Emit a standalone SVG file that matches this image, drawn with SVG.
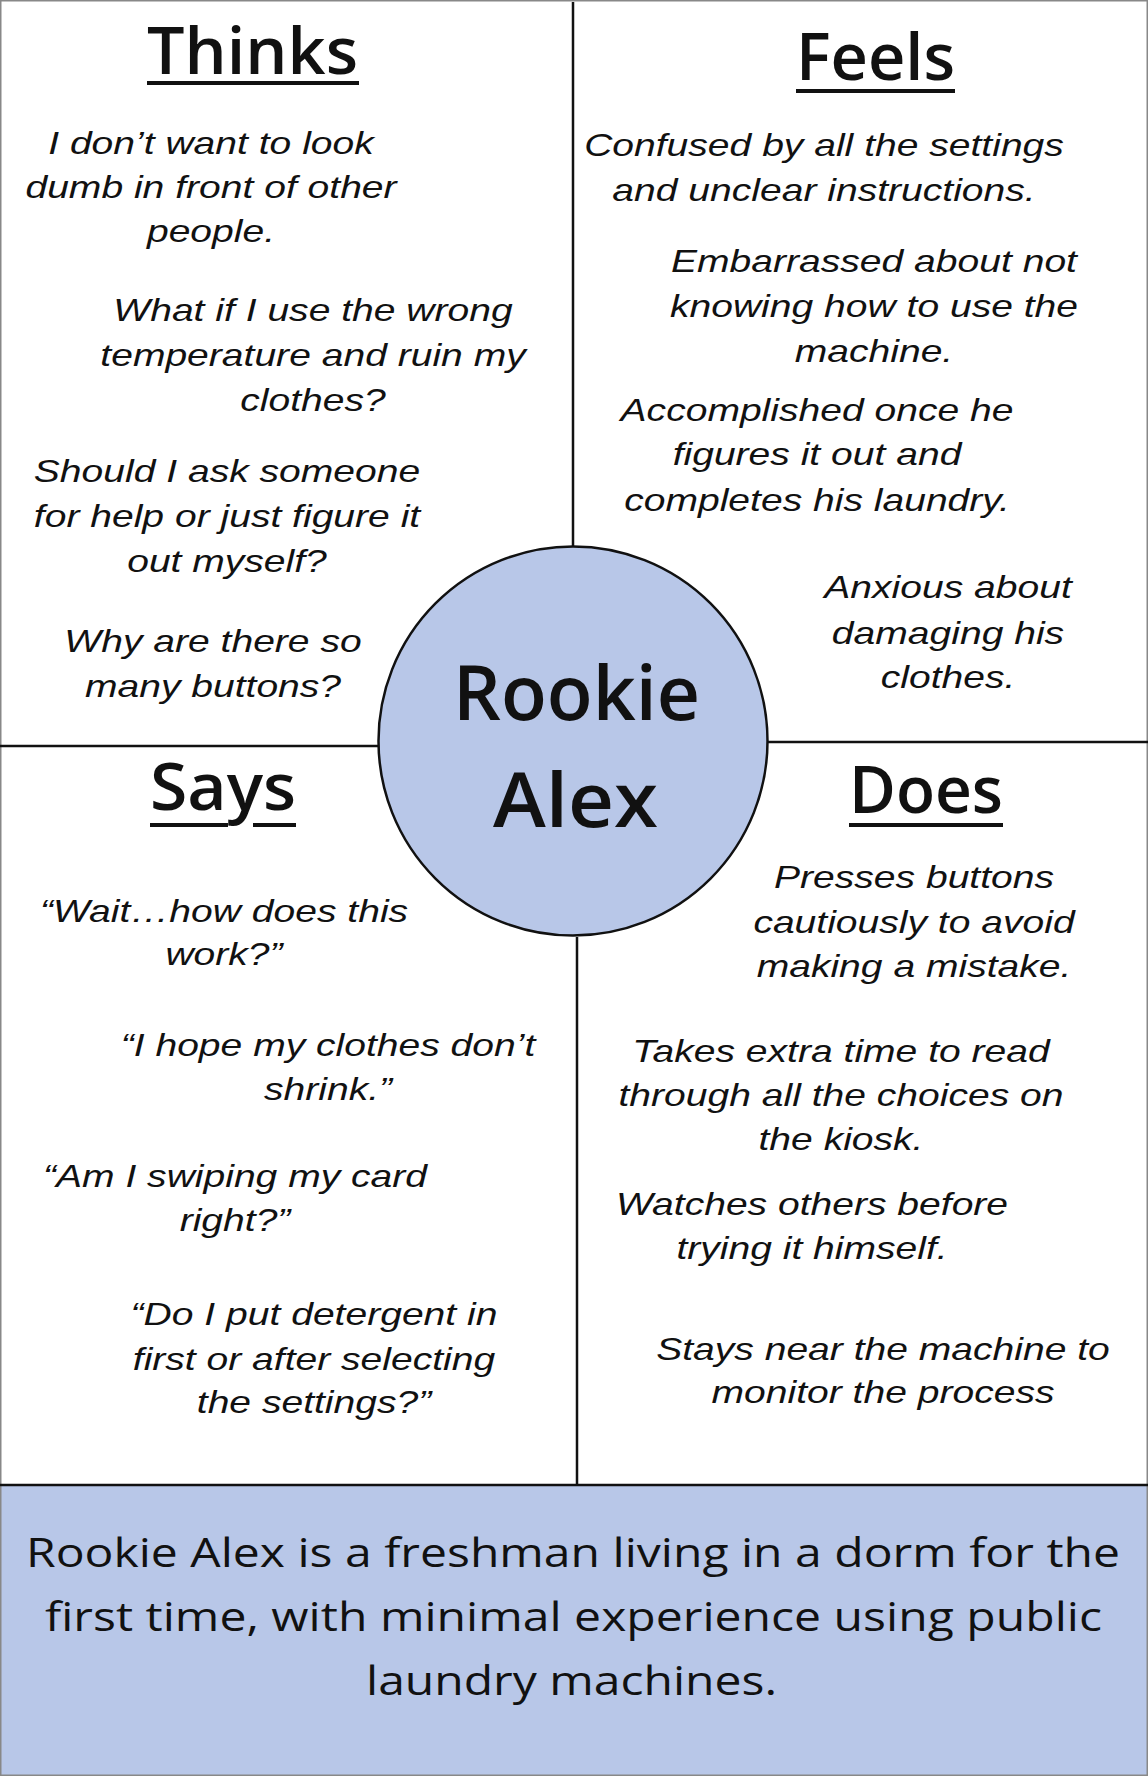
<svg xmlns="http://www.w3.org/2000/svg" width="1148" height="1776" viewBox="0 0 1148 1776">
<style>
.b{font-family:"Liberation Sans",Arial,sans-serif;font-style:italic;font-size:31px;fill:#111;text-anchor:middle}
.h{font-family:"Open Sans",Lato,sans-serif;font-weight:600;font-size:66px;fill:#111;text-anchor:middle}
.c{font-family:"Open Sans",Lato,sans-serif;font-weight:600;font-size:76px;fill:#111;text-anchor:middle}
.s{font-family:"Open Sans",Lato,sans-serif;font-weight:500;font-size:40px;fill:#111;text-anchor:middle}
.ul{stroke:#111;stroke-width:4}
.ln{stroke:#111;stroke-width:2.5;fill:none}
</style>
<rect x="0" y="0" width="1148" height="1776" fill="#fff"/>
<rect id="summary-bg" x="0" y="1485" width="1148" height="291" fill="#b8c7e8"/>
<rect x="0.75" y="0.75" width="1146.5" height="1774.5" fill="none" stroke="#888" stroke-width="1.5"/>
<g id="connectors">
<line class="ln" x1="573" y1="2" x2="573" y2="546"/>
<line class="ln" x1="0" y1="746" x2="379" y2="746"/>
<line class="ln" x1="767" y1="742" x2="1148" y2="742"/>
<line class="ln" x1="577" y1="937" x2="577" y2="1485"/>
<line class="ln" x1="0" y1="1485" x2="1148" y2="1485" stroke-width="3"/>
</g>
<g id="center">
<circle cx="573" cy="741" r="194.5" fill="#b8c7e8" stroke="#111" stroke-width="2.5"/>
<text class="c" x="576.5" y="720" textLength="247" lengthAdjust="spacingAndGlyphs">Rookie</text>
<text class="c" x="575.5" y="827" textLength="165" lengthAdjust="spacingAndGlyphs">Alex</text>
</g>
<g id="thinks">
<text class="h" x="252.5" y="74" textLength="211" lengthAdjust="spacingAndGlyphs">Thinks</text>
<line class="ul" x1="147" y1="83" x2="359" y2="83"/>
<g transform="translate(211,0) scale(1.26,1)"><text class="b"><tspan x="0" y="154">I don’t want to look</tspan><tspan x="0" y="198">dumb in front of other</tspan><tspan x="0" y="242">people.</tspan></text></g>
<g transform="translate(313,0) scale(1.26,1)"><text class="b"><tspan x="0" y="321.5">What if I use the wrong</tspan><tspan x="0" y="366.5">temperature and ruin my</tspan><tspan x="0" y="411">clothes?</tspan></text></g>
<g transform="translate(227,0) scale(1.26,1)"><text class="b"><tspan x="0" y="482">Should I ask someone</tspan><tspan x="0" y="527">for help or just figure it</tspan><tspan x="0" y="572">out myself?</tspan></text></g>
<g transform="translate(213,0) scale(1.26,1)"><text class="b"><tspan x="0" y="652">Why are there so</tspan><tspan x="0" y="697">many buttons?</tspan></text></g>
</g>
<g id="feels">
<text class="h" x="875.5" y="80" textLength="159" lengthAdjust="spacingAndGlyphs">Feels</text>
<line class="ul" x1="796" y1="91" x2="955" y2="91"/>
<g transform="translate(824,0) scale(1.26,1)"><text class="b"><tspan x="0" y="156">Confused by all the settings</tspan><tspan x="0" y="201">and unclear instructions.</tspan></text></g>
<g transform="translate(874,0) scale(1.26,1)"><text class="b"><tspan x="0" y="272.5">Embarrassed about not</tspan><tspan x="0" y="317">knowing how to use the</tspan><tspan x="0" y="362">machine.</tspan></text></g>
<g transform="translate(817,0) scale(1.26,1)"><text class="b"><tspan x="0" y="421">Accomplished once he</tspan><tspan x="0" y="465">figures it out and</tspan><tspan x="0" y="511">completes his laundry.</tspan></text></g>
<g transform="translate(948,0) scale(1.26,1)"><text class="b"><tspan x="0" y="598">Anxious about</tspan><tspan x="0" y="644">damaging his</tspan><tspan x="0" y="688">clothes.</tspan></text></g>
</g>
<g id="says">
<text class="h" x="223" y="810" textLength="146" lengthAdjust="spacingAndGlyphs">Says</text>
<line class="ul" x1="150" y1="825" x2="228" y2="825"/>
<line class="ul" x1="253" y1="825" x2="296" y2="825"/>
<g transform="translate(224,0) scale(1.26,1)"><text class="b"><tspan x="0" y="922">“Wait…how does this</tspan><tspan x="0" y="965">work?”</tspan></text></g>
<g transform="translate(328,0) scale(1.26,1)"><text class="b"><tspan x="0" y="1056">“I hope my clothes don’t</tspan><tspan x="0" y="1100">shrink.”</tspan></text></g>
<g transform="translate(235,0) scale(1.26,1)"><text class="b"><tspan x="0" y="1187">“Am I swiping my card</tspan><tspan x="0" y="1231">right?”</tspan></text></g>
<g transform="translate(314,0) scale(1.26,1)"><text class="b"><tspan x="0" y="1325">“Do I put detergent in</tspan><tspan x="0" y="1370">first or after selecting</tspan><tspan x="0" y="1413">the settings?”</tspan></text></g>
</g>
<g id="does">
<text class="h" x="926" y="813" textLength="154" lengthAdjust="spacingAndGlyphs">Does</text>
<line class="ul" x1="849" y1="825" x2="1003" y2="825"/>
<g transform="translate(914,0) scale(1.26,1)"><text class="b"><tspan x="0" y="888">Presses buttons</tspan><tspan x="0" y="933">cautiously to avoid</tspan><tspan x="0" y="977">making a mistake.</tspan></text></g>
<g transform="translate(841,0) scale(1.26,1)"><text class="b"><tspan x="0" y="1062">Takes extra time to read</tspan><tspan x="0" y="1106">through all the choices on</tspan><tspan x="0" y="1150">the kiosk.</tspan></text></g>
<g transform="translate(812,0) scale(1.26,1)"><text class="b"><tspan x="0" y="1215">Watches others before</tspan><tspan x="0" y="1259">trying it himself.</tspan></text></g>
<g transform="translate(883,0) scale(1.26,1)"><text class="b"><tspan x="0" y="1360">Stays near the machine to</tspan><tspan x="0" y="1403">monitor the process</tspan></text></g>
</g>
<g id="summary">
<text class="s" x="573" y="1567" textLength="1094" lengthAdjust="spacingAndGlyphs">Rookie Alex is a freshman living in a dorm for the</text>
<text class="s" x="573.5" y="1631" textLength="1057" lengthAdjust="spacingAndGlyphs">first time, with minimal experience using public</text>
<text class="s" x="571.5" y="1695" textLength="411" lengthAdjust="spacingAndGlyphs">laundry machines.</text>
</g>
</svg>
